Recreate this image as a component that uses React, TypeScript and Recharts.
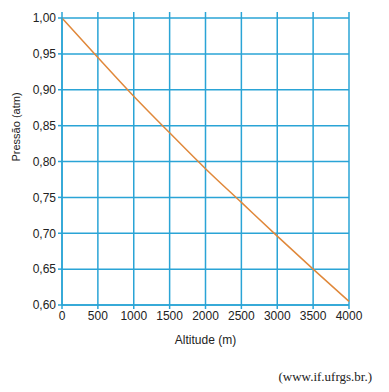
import React from 'react';
import { LineChart, Line, XAxis, YAxis, CartesianGrid } from 'recharts';

const altitudes = [0, 500, 1000, 1500, 2000, 2500, 3000, 3500, 4000];
const pressures = [1.0, 0.945, 0.891, 0.84, 0.79, 0.743, 0.696, 0.65, 0.605];
const xTicks = [0, 500, 1000, 1500, 2000, 2500, 3000, 3500, 4000];
const yTicks = [0.6, 0.65, 0.7, 0.75, 0.8, 0.85, 0.9, 0.95, 1.0];

const data = altitudes.map((a, i) => ({ alt: a, p: pressures[i] }));

const BLUE = '#2aa4d6';
const ORANGE = '#e0883a';
const FONT = '"Liberation Sans", Arial, sans-serif';

const fmtY = (v: number) => v.toFixed(2).replace('.', ',');

export default function App() {
  return (
    <div style={{ position: 'absolute', left: 0, top: 0, width: 389, height: 392, background: '#fff' }}>
      <LineChart
        width={389}
        height={392}
        data={data}
        margin={{ top: 12, right: 40, bottom: 57, left: 0 }}
      >
        <CartesianGrid stroke={BLUE} strokeWidth={1.5} horizontalValues={yTicks} verticalValues={xTicks} />
        <XAxis
          xAxisId="top"
          orientation="top"
          dataKey="alt"
          type="number"
          domain={[0, 4000]}
          ticks={xTicks}
          tickFormatter={() => ''}
          tickLine={{ stroke: BLUE, strokeWidth: 1.5 }}
          tickSize={6}
          axisLine={false}
          height={6}
          interval={0}
        />
        <XAxis
          dataKey="alt"
          type="number"
          domain={[0, 4000]}
          ticks={xTicks}
          tickSize={4}
          tickLine={{ stroke: BLUE, strokeWidth: 1.5 }}
          axisLine={{ stroke: BLUE, strokeWidth: 1.5 }}
          tick={{ fill: '#222', fontSize: 12, fontFamily: FONT }}
          height={30}
          interval={0}
          label={{ value: 'Altitude (m)', position: 'insideBottom', offset: -9, fill: '#222', fontSize: 12, fontFamily: FONT }}
        />
        <YAxis
          type="number"
          domain={[0.6, 1.0]}
          ticks={yTicks}
          tickFormatter={fmtY}
          tickSize={4}
          tickLine={{ stroke: BLUE, strokeWidth: 1.5 }}
          axisLine={{ stroke: BLUE, strokeWidth: 1.5 }}
          tick={{ fill: '#222', fontSize: 12, fontFamily: FONT }}
          width={62}
          interval={0}
          label={{ value: 'Pressão (atm)', angle: -90, position: 'insideLeft', offset: 16, fill: '#222', fontSize: 11, fontFamily: FONT }}
        />
        <Line
          xAxisId={0}
          dataKey="p"
          type="monotone"
          stroke={ORANGE}
          strokeWidth={1.5}
          dot={false}
          isAnimationActive={false}
        />
      </LineChart>
      <div
        style={{
          position: 'absolute',
          right: 17,
          top: 369,
          fontFamily: '"Liberation Serif", "Times New Roman", serif',
          fontSize: 13,
          color: '#222',
        }}
      >
        (www.if.ufrgs.br.)
      </div>
    </div>
  );
}
